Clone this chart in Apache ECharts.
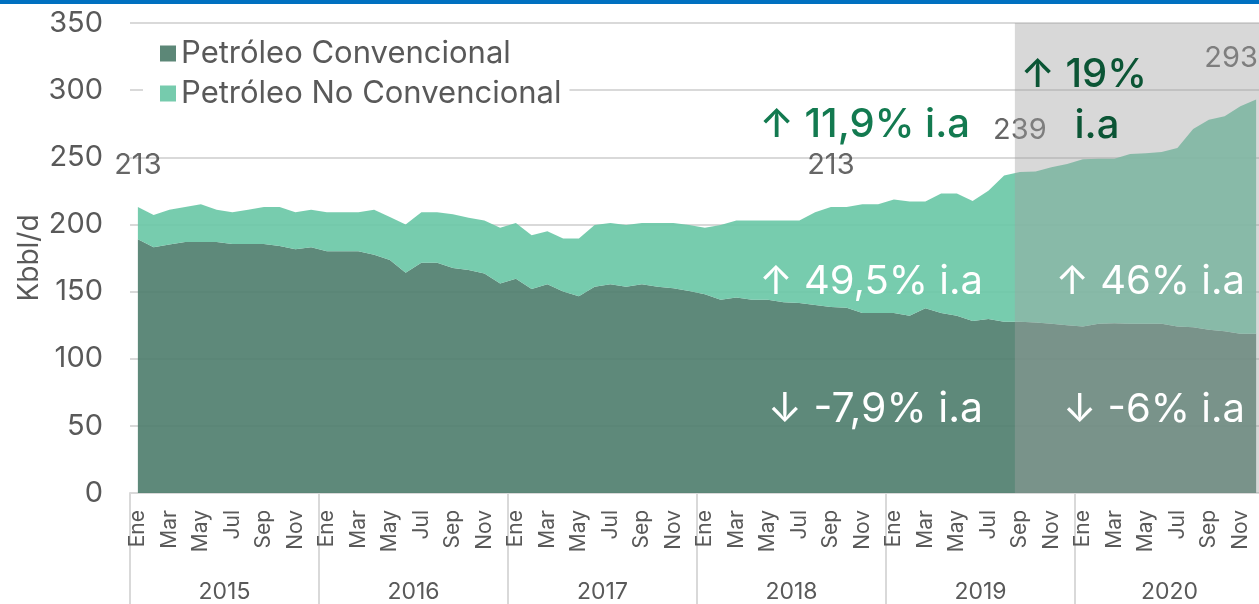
<!DOCTYPE html>
<html><head><meta charset="utf-8">
<script src="https://cdn.jsdelivr.net/npm/echarts@6/dist/echarts.min.js"></script>
<style>html,body{margin:0;padding:0;background:#fff}#c{width:1259px;height:604px}</style>
</head><body><div id="c"></div>
<script>
// ---- data ----
const monthNames = ['Ene','Feb','Mar','Abr','May','Jun','Jul','Ago','Sep','Oct','Nov','Dic'];
const years = ['2015','2016','2017','2018','2019','2020'];
const categories = years.flatMap(y => monthNames.map(m => m + ' ' + y));

const conventional = [
  189,183,185,187,187,187,185.5,185.5,185.5,184,181.5,183,
  180,180,180,177.5,173.5,164,171.5,171.5,167.5,166,163.5,156,
  159.5,152,155.5,150,146.5,153.5,155.5,153.5,155.5,153.5,152.5,150.5,
  148,144,145.5,144,144,142,141.5,140,138.5,138,134,134,
  134,132,137.5,134,132,128,129.5,127.5,127.5,127,126,125,
  124,126,126.5,126,126,126,124,123.5,121.5,120.5,118.5,118.5
];
const nonConventional = [
  24,24,26,26,28,24,23.5,25.5,27.5,29,27.5,28,
  29,29,29,33.5,32,36,37.5,37.5,40,39,39.5,41.5,
  41.5,40,39.5,39.5,43,46,45.5,46,45.5,47.5,48.5,49,
  49.5,55.5,57.5,59,59,61,61.5,69,74.5,75,81,81,
  84.5,85,79.5,89,91,89.5,95.5,109,111.5,112.5,116.5,120,
  124.5,123,122.5,126.5,127,128,133,147.5,156.5,160,169.5,174.5
];
// labelled totals (category index, value)
const totalLabelIdx = [0, 44, 56, 71];
const totalLabelVal = [213, 213, 239, 293];
const seriesNames = ['Petróleo Convencional', 'Petróleo No Convencional'];
const yTicks = [0, 50, 100, 150, 200, 250, 300, 350];
const highlightStartIdx = 56;

const FONT = 'Inter, "Open Sans", sans-serif';
const chart = echarts.init(document.getElementById('c'), null, {renderer: 'canvas'});

const option = {
  animation: false,
  textStyle: {fontFamily: FONT},
  grid: {left: 130, top: 23, width: 1134, height: 470, containLabel: false, outerBoundsMode: 'none'},
  legend: {
    data: seriesNames,
    orient: 'vertical',
    left: 143, top: 30,
    icon: 'rect', itemWidth: 16, itemHeight: 16, itemGap: 9,
    padding: [8, 8, 8, 17],
    backgroundColor: '#ffffff',
    textStyle: {fontSize: 31, color: '#595959', fontFamily: FONT}
  },
  xAxis: [{
    type: 'category', data: categories, boundaryGap: true,
    axisLine: {lineStyle: {color: '#d9d9d9', width: 2}},
    axisTick: {show: false},
    axisLabel: {rotate: 90, interval: 1, fontSize: 21, color: '#595959', margin: 17,
      formatter: v => v.split(' ')[0]}
  }, {
    type: 'category', data: years, boundaryGap: true, position: 'bottom',
    axisLine: {show: false},
    axisTick: {show: true, length: 112, lineStyle: {color: '#d9d9d9', width: 2}},
    axisLabel: {fontSize: 23, color: '#595959', margin: 88}
  }],
  yAxis: {
    type: 'value', min: yTicks[0], max: yTicks[yTicks.length - 1], interval: 50,
    name: 'Kbbl/d', nameLocation: 'middle', nameGap: 86, nameRotate: 90,
    nameMoveOverlap: false,
    nameTextStyle: {fontSize: 28, color: '#595959'},
    axisLine: {show: false}, axisTick: {show: false},
    axisLabel: {fontSize: 29, color: '#595959', margin: 27},
    splitLine: {lineStyle: {color: '#d9d9d9', width: 2}}
  },
  series: [{
    name: seriesNames[0], type: 'line', stack: 'tot', data: conventional,
    color: '#5c8777', symbol: 'none', lineStyle: {width: 0},
    areaStyle: {color: '#4d7c6b', opacity: 0.9}, z: 2
  }, {
    name: seriesNames[1], type: 'line', stack: 'tot', data: nonConventional,
    color: '#76cbad', symbol: 'none', lineStyle: {width: 0},
    areaStyle: {color: '#68c6a5', opacity: 0.9}, z: 2
  }, {
    name: 'totales', type: 'scatter', symbolSize: 0, z: 3,
    data: totalLabelIdx.map((i, k) => ({
      value: [categories[i], totalLabelVal[k]],
      label: k === 3 ? {offset: [-25, 0]} : {}
    })),
    label: {show: true, position: 'top', distance: 27, fontSize: 29, color: '#404040',
      formatter: p => String(p.value[1])}
  }]
};
chart.setOption(option);

const px = (i) => chart.convertToPixel({xAxisIndex: 0}, categories[i]);
const py = (v) => chart.convertToPixel({yAxisIndex: 0}, v);
const xStart = px(highlightStartIdx) - 5;
const yTop = py(350), yBot = py(0);

const ann = (text, x, y, fill, size, weight, align) => ({
  type: 'text', x, y, z: 20,
  style: {text, fill, fontSize: size, fontWeight: weight, fontFamily: FONT,
    align: align || 'left', verticalAlign: 'middle'}
});

chart.setOption({
  graphic: [
    {type: 'rect', z: 30, shape: {x: 0, y: 0, width: 1259, height: 4}, style: {fill: '#0070c0'}},
    {type: 'rect', z: 10, shape: {x: xStart, y: yTop, width: 1264 - xStart, height: yBot - yTop},
      style: {fill: 'rgba(160,160,160,0.41)'}},
    ann('↑ 11,9% i.a', 970, 125, '#137a50', 40, 500, 'right'),
    ann('↑ 19%', 1147, 75, '#0b5535', 40, 500, 'right'),
    ann('i.a', 1097, 126, '#0b5535', 40, 500, 'center'),
    ann('↑ 49,5% i.a', 983, 282, '#ffffff', 40, 400, 'right'),
    ann('↑ 46% i.a', 1245, 282, '#ffffff', 40, 400, 'right'),
    ann('↓ -7,9% i.a', 983, 410, '#ffffff', 41, 400, 'right'),
    ann('↓ -6% i.a', 1245, 410, '#ffffff', 40, 400, 'right')
  ]
});
</script>
</body></html>
